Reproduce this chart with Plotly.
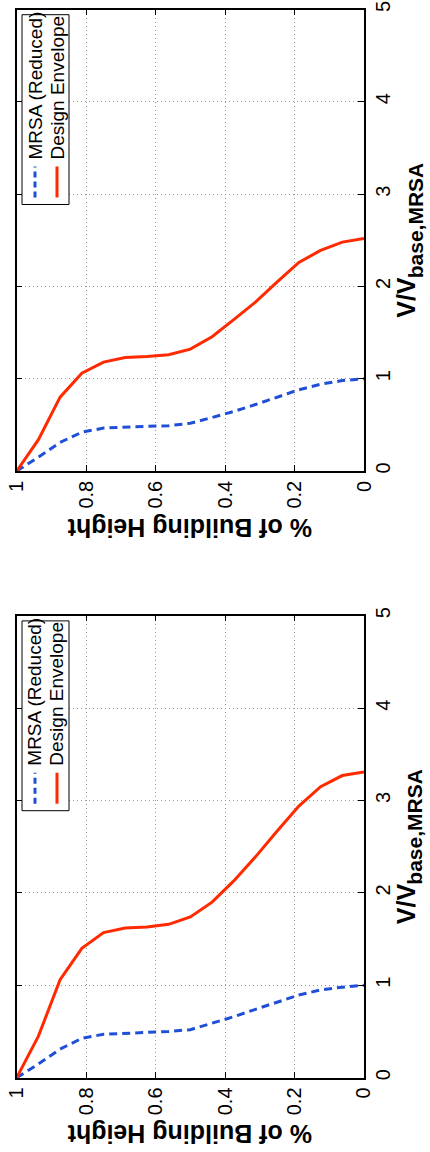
import plotly.graph_objects as go

# ---------------- data ----------------
height_frac = [1.0, 0.9375, 0.875, 0.8125, 0.75, 0.6875, 0.625, 0.5625, 0.5,
               0.4375, 0.375, 0.3125, 0.25, 0.1875, 0.125, 0.0625, 0.0]

# upper panel
mrsa_upper = [0, 0.15, 0.31, 0.42, 0.465, 0.478, 0.485, 0.49, 0.517, 0.58, 0.645,
              0.72, 0.80, 0.88, 0.94, 0.98, 1.0]
envelope_upper = [0, 0.34, 0.80, 1.06, 1.18, 1.23, 1.24, 1.26, 1.32, 1.455, 1.64,
                  1.83, 2.05, 2.26, 2.39, 2.48, 2.52]

# lower panel
mrsa_lower = [0, 0.148, 0.31, 0.426, 0.47, 0.484, 0.49, 0.50, 0.52, 0.59, 0.66,
              0.74, 0.82, 0.895, 0.95, 0.98, 1.0]
envelope_lower = [0, 0.45, 1.06, 1.40, 1.57, 1.62, 1.63, 1.66, 1.74, 1.90, 2.13,
                  2.39, 2.67, 2.94, 3.15, 3.27, 3.31]

height_ticks = [1, 0.8, 0.6, 0.4, 0.2, 0]
height_ticktext = ["1", "0.8", "0.6", "0.4", "0.2", "0"]
ratio_ticks = [0, 1, 2, 3, 4, 5]
ratio_ticktext = ["0", "1", "2", "3", "4", "5"]

series_names = ["MRSA (Reduced)", "Design Envelope"]
x_title = "% of Building Height"
y_title_main = "V/V"
y_title_sub = "base,MRSA"

# ---------------- layout helpers ----------------
W, H = 430, 1152
FONT = "Liberation Sans, Arial, sans-serif"
BLUE = "#1f4fd6"
RED = "#ff2a00"


def px(x):
    return x / W


def py(y):
    return 1 - y / H


plot_left, plot_right = 16.7, 364.0
panels = [
    dict(top=9.5, bottom=471.0, mrsa=mrsa_upper, env=envelope_upper),
    dict(top=615.7, bottom=1077.7, mrsa=mrsa_lower, env=envelope_lower),
]

fig = go.Figure()
annotations = []
shapes = []

for i, p in enumerate(panels):
    n = "" if i == 0 else str(i + 1)
    xa, ya = "x" + n, "y" + n
    fig.add_trace(go.Scatter(x=height_frac, y=p["mrsa"], mode="lines",
                             line=dict(color=BLUE, width=3, dash="8px,5px"),
                             xaxis=xa, yaxis=ya, showlegend=False,
                             name=series_names[0]))
    fig.add_trace(go.Scatter(x=height_frac, y=p["env"], mode="lines",
                             line=dict(color=RED, width=3),
                             xaxis=xa, yaxis=ya, showlegend=False,
                             name=series_names[1]))

    common = dict(showline=True, linecolor="black", linewidth=1.5, mirror="ticks",
                  ticks="inside", ticklen=6, tickwidth=1, tickcolor="black",
                  showgrid=True, gridcolor="#9a9a9a", gridwidth=1,
                  griddash="1px,3px", automargin=False,
                  ticklabeloverflow="allow",
                  zeroline=False, tickangle=-90,
                  tickfont=dict(family=FONT, size=20, color="black"))
    fig.update_layout(**{
        "xaxis" + n: dict(common, domain=[px(plot_left), px(plot_right)],
                          range=[1, 0], anchor=ya, tickvals=height_ticks,
                          ticktext=height_ticktext),
        "yaxis" + n: dict(common, domain=[py(p["bottom"]), py(p["top"])],
                          range=[0, 5], anchor=xa, side="right",
                          tickvals=ratio_ticks, ticktext=ratio_ticktext),
    })

    # x-axis title (upside down)
    annotations.append(dict(text="<b>" + x_title + "</b>", x=px(190),
                            y=py(p["bottom"] + 57), xref="paper", yref="paper",
                            xanchor="center", yanchor="middle",
                            showarrow=False, textangle=180,
                            font=dict(family=FONT, size=25, color="black")))
    # y-axis title, reading bottom to top
    mid = (p["top"] + p["bottom"]) / 2
    annotations.append(dict(text="<b>" + y_title_main + "</b>", x=px(406),
                            y=py(mid + 80), xref="paper", yref="paper",
                            xanchor="center", yanchor="bottom",
                            showarrow=False, textangle=-90,
                            font=dict(family=FONT, size=25, color="black")))
    annotations.append(dict(text="<b>" + y_title_sub + "</b>", x=px(415),
                            y=py(mid + 40), xref="paper", yref="paper",
                            xanchor="center", yanchor="bottom",
                            showarrow=False, textangle=-90,
                            font=dict(family=FONT, size=21, color="black")))

    # legend box
    lt = p["top"] + 5.2
    lb = p["top"] + 195
    shapes.append(dict(type="rect", xref="paper", yref="paper",
                       x0=px(22), x1=px(69), y0=py(lb), y1=py(lt),
                       line=dict(color="black", width=1), fillcolor="white",
                       layer="above"))
    shapes.append(dict(type="line", xref="paper", yref="paper",
                       x0=px(35), x1=px(35), y0=py(lb - 7), y1=py(lb - 38),
                       line=dict(color=BLUE, width=3, dash="6px,4px"),
                       layer="above"))
    shapes.append(dict(type="line", xref="paper", yref="paper",
                       x0=px(57), x1=px(57), y0=py(lb - 7), y1=py(lb - 38),
                       line=dict(color=RED, width=3), layer="above"))
    for xc, name in [(35, series_names[0]), (57, series_names[1])]:
        annotations.append(dict(text=name, x=px(xc), y=py(lb - 43),
                                xref="paper", yref="paper", xanchor="center",
                                yanchor="bottom", showarrow=False, textangle=-90,
                                font=dict(family=FONT, size=19, color="black")))

fig.update_layout(width=W, height=H, margin=dict(l=0, r=0, t=0, b=0),
                  paper_bgcolor="white", plot_bgcolor="white",
                  annotations=annotations, shapes=shapes,
                  font=dict(family=FONT, color="black"))

# remove the default 8px page margin so the figure fills the window exactly
fig.write_html("out.html", config={"displayModeBar": False},
               post_script="document.body.style.margin='0px';")
